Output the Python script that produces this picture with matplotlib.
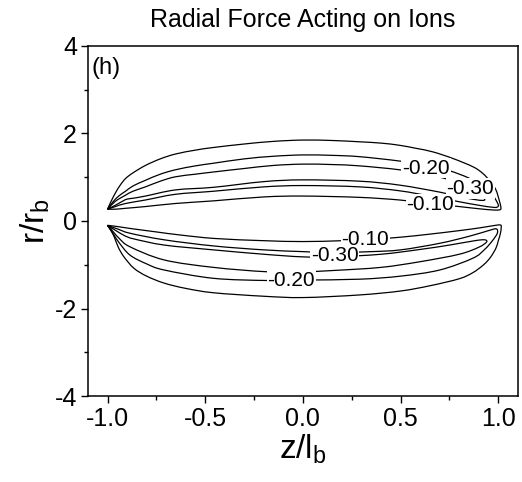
import matplotlib
matplotlib.use("Agg")
import matplotlib.pyplot as plt
from matplotlib.path import Path
from matplotlib.patches import PathPatch
from matplotlib.ticker import MultipleLocator
import numpy as np

plt.rcParams['font.family'] = ['Liberation Sans', 'DejaVu Sans']
plt.rcParams['axes.unicode_minus'] = False
plt.rcParams['mathtext.fontset'] = 'custom'
plt.rcParams['mathtext.rm'] = 'Liberation Sans'

# contour loops as (z/l_b, r/r_b) points, outer branch then inner branch
up_010 = [(-1.0, 0.27), (-0.985, 0.42), (-0.96, 0.64), (-0.935, 0.82), (-0.908, 0.97), (-0.87, 1.10),
          (-0.806, 1.27), (-0.73, 1.42), (-0.653, 1.53), (-0.55, 1.62), (-0.458, 1.68), (-0.3, 1.76),
          (-0.15, 1.82), (0.0, 1.85), (0.15, 1.84), (0.29, 1.81), (0.4, 1.78), (0.495, 1.73), (0.58, 1.66),
          (0.665, 1.58), (0.767, 1.43), (0.87, 1.24), (0.92, 1.09), (0.96, 0.90), (0.988, 0.71),
          (1.005, 0.47), (1.013, 0.32), (1.01, 0.26), (0.98, 0.25), (0.9, 0.28), (0.8, 0.33), (0.65, 0.40),
          (0.495, 0.48), (0.29, 0.54), (0.0, 0.57), (-0.2, 0.55), (-0.458, 0.46), (-0.653, 0.40),
          (-0.806, 0.33), (-0.908, 0.29), (-0.96, 0.27), (-1.0, 0.27)]
up_020 = [(-1.0, 0.27), (-0.97, 0.45), (-0.94, 0.58), (-0.908, 0.68), (-0.87, 0.80), (-0.806, 0.93),
          (-0.73, 1.07), (-0.653, 1.17), (-0.55, 1.26), (-0.458, 1.32), (-0.3, 1.42), (-0.15, 1.48),
          (0.0, 1.51), (0.15, 1.50), (0.29, 1.47), (0.495, 1.37), (0.65, 1.26), (0.75, 1.15), (0.85, 0.98),
          (0.92, 0.80), (0.97, 0.60), (0.995, 0.42), (1.0, 0.34), (0.98, 0.31), (0.9, 0.36), (0.8, 0.44),
          (0.65, 0.57), (0.495, 0.69), (0.29, 0.78), (0.0, 0.81), (-0.2, 0.78), (-0.458, 0.68),
          (-0.653, 0.61), (-0.806, 0.48), (-0.908, 0.40), (-0.96, 0.33), (-1.0, 0.27)]
up_030 = [(-1.0, 0.27), (-0.96, 0.45), (-0.908, 0.59), (-0.87, 0.68), (-0.806, 0.78), (-0.73, 0.91),
          (-0.653, 1.01), (-0.55, 1.07), (-0.458, 1.12), (-0.3, 1.20), (-0.15, 1.27), (0.0, 1.30),
          (0.15, 1.29), (0.29, 1.26), (0.495, 1.17), (0.65, 1.05), (0.75, 0.94), (0.85, 0.76), (0.9, 0.62),
          (0.93, 0.50), (0.92, 0.47), (0.88, 0.49), (0.82, 0.54), (0.7, 0.66), (0.495, 0.82), (0.29, 0.91),
          (0.0, 0.94), (-0.2, 0.90), (-0.458, 0.77), (-0.653, 0.71), (-0.806, 0.57), (-0.87, 0.52),
          (-0.9, 0.50), (-0.92, 0.46), (-0.96, 0.36), (-1.0, 0.27)]

lo_010 = [(-1.0, -0.10), (-0.96, -0.12), (-0.885, -0.17), (-0.75, -0.25), (-0.628, -0.32), (-0.45, -0.40),
          (-0.2, -0.45), (0.0, -0.47), (0.2, -0.45), (0.35, -0.42), (0.5, -0.37), (0.65, -0.30),
          (0.8, -0.22), (0.9, -0.16), (0.97, -0.11), (1.01, -0.09), (1.015, -0.15), (1.01, -0.30),
          (1.0, -0.45), (0.988, -0.62), (0.96, -0.83), (0.925, -1.0), (0.87, -1.18), (0.8, -1.32),
          (0.65, -1.48), (0.5, -1.60), (0.29, -1.69), (0.0, -1.75), (-0.2, -1.72), (-0.458, -1.64),
          (-0.6, -1.54), (-0.71, -1.42), (-0.80, -1.26), (-0.865, -1.08), (-0.916, -0.82),
          (-0.945, -0.60), (-0.966, -0.36), (-0.985, -0.20), (-1.0, -0.10)]
lo_020 = [(-1.0, -0.10), (-0.95, -0.18), (-0.885, -0.28), (-0.71, -0.43), (-0.458, -0.57), (-0.2, -0.66),
          (0.0, -0.70), (0.16, -0.72), (0.35, -0.70), (0.5, -0.66), (0.7, -0.51), (0.85, -0.35),
          (0.95, -0.22), (0.99, -0.18), (0.995, -0.28), (0.97, -0.45), (0.93, -0.65), (0.87, -0.85),
          (0.7, -1.12), (0.5, -1.26), (0.29, -1.33), (0.0, -1.35), (-0.185, -1.36), (-0.458, -1.31),
          (-0.71, -1.12), (-0.80, -0.98), (-0.885, -0.78), (-0.94, -0.50), (-0.97, -0.30), (-1.0, -0.10)]
lo_030 = [(-1.0, -0.10), (-0.95, -0.24), (-0.915, -0.33), (-0.9, -0.36), (-0.865, -0.41), (-0.71, -0.55),
          (-0.458, -0.66), (-0.2, -0.76), (0.0, -0.82), (0.16, -0.82), (0.4, -0.76), (0.6, -0.65),
          (0.75, -0.55), (0.88, -0.45), (0.93, -0.43), (0.94, -0.48), (0.9, -0.60), (0.8, -0.76),
          (0.6, -0.93), (0.4, -1.06), (0.16, -1.13), (0.0, -1.16), (-0.185, -1.16), (-0.458, -1.06),
          (-0.71, -0.89), (-0.885, -0.59), (-0.94, -0.40), (-0.97, -0.25), (-1.0, -0.10)]

loops = [up_010, up_020, up_030, lo_010, lo_020, lo_030]

# contour labels: text and where they sit
label_text = ['-0.20', '-0.30', '-0.10', '-0.10', '-0.30', '-0.20']
label_z = [0.63, 0.857, 0.653, 0.32, 0.163, -0.06]
label_r = [1.21, 0.74, 0.38, -0.42, -0.80, -1.36]


def smooth_path(points):
    # pass a cubic Bezier through the traced points (Catmull-Rom style handles)
    p = np.array(points, dtype=float)
    ext = np.vstack([p[0], p, p[-1]])
    verts = [p[0]]
    codes = [Path.MOVETO]
    for i in range(1, len(ext) - 2):
        p0, p1, p2, p3 = ext[i - 1], ext[i], ext[i + 1], ext[i + 2]
        verts += [p1 + (p2 - p0) / 6.0, p2 - (p3 - p1) / 6.0, p2]
        codes += [Path.CURVE4] * 3
    return Path(verts, codes)


fig = plt.figure(figsize=(5.22, 4.82), dpi=100)
ax = fig.add_axes([0.1686, 0.1784, 0.8234, 0.7262])

for loop in loops:
    ax.add_patch(PathPatch(smooth_path(loop), facecolor='none', edgecolor='black',
                           lw=0.9, joinstyle='round'))

for txt, z, r in zip(label_text, label_z, label_r):
    ax.text(z, r, txt, ha='center', va='center', fontsize=15, zorder=5,
            bbox=dict(facecolor='white', edgecolor='none', pad=0.6))

ax.set_xlim(-1.1, 1.1)
ax.set_ylim(-4, 4)
ax.xaxis.set_minor_locator(MultipleLocator(0.25))
ax.yaxis.set_major_locator(MultipleLocator(2))
ax.yaxis.set_minor_locator(MultipleLocator(1))
ax.set_xticks([-1.0, -0.5, 0.0, 0.5, 1.0])
ax.set_xticklabels(['-1.0', '-0.5', '0.0', '0.5', '1.0'])
ax.tick_params(which='major', direction='out', length=5, width=1, labelsize=18, pad=3)
ax.tick_params(which='minor', direction='out', length=3, width=1)
for s in ax.spines.values():
    s.set_linewidth(1.1)

ax.set_xlabel(r'z/l$_\mathregular{b}$', fontsize=24, labelpad=1)
ax.set_ylabel(r'r/r$_\mathregular{b}$', fontsize=24, labelpad=2)
ax.set_title('Radial Force Acting on Ions', fontsize=18, pad=14)
ax.text(0.008, 0.968, '(h)', transform=ax.transAxes, ha='left', va='top', fontsize=17)

fig.savefig('out.png', dpi=100)
